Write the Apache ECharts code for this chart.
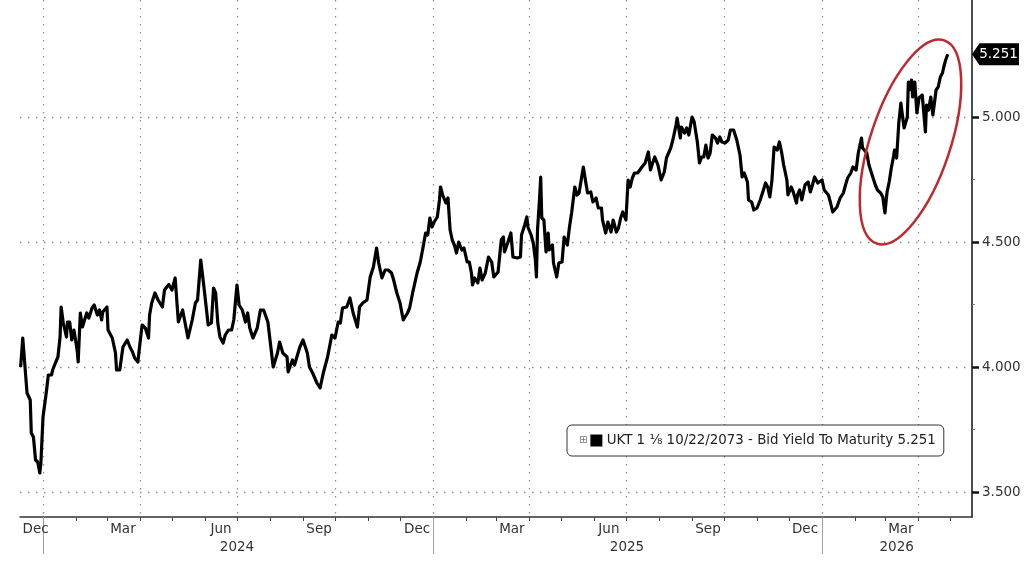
<!DOCTYPE html>
<html>
<head>
<meta charset="utf-8">
<script src="https://cdn.jsdelivr.net/npm/echarts@6/dist/echarts.min.js"></script>
<style>
html,body{margin:0;padding:0;background:#fff;}
#chart{width:1034px;height:564px;}
</style>
</head>
<body>
<div id="chart"></div>
<script>
// ---------------- DATA ----------------
const dates = [
'2023-12-11','2023-12-13','2023-12-14','2023-12-17','2023-12-20','2023-12-21','2023-12-23','2023-12-25','2023-12-27','2023-12-29','2023-12-30',
'2024-01-01','2024-01-04','2024-01-06','2024-01-09','2024-01-10','2024-01-13','2024-01-15','2024-01-17','2024-01-18','2024-01-20','2024-01-23','2024-01-24','2024-01-26','2024-01-28','2024-01-30',
'2024-02-02','2024-02-03','2024-02-05','2024-02-07','2024-02-09','2024-02-11','2024-02-13','2024-02-16','2024-02-18','2024-02-21','2024-02-23','2024-02-25','2024-02-26',
'2024-03-01','2024-03-02','2024-03-06','2024-03-09','2024-03-10','2024-03-13','2024-03-16','2024-03-20','2024-03-23','2024-03-25','2024-03-27','2024-03-30',
'2024-04-01','2024-04-03','2024-04-06','2024-04-09','2024-04-10','2024-04-12','2024-04-15','2024-04-18','2024-04-22','2024-04-24','2024-04-28',
'2024-05-01','2024-05-04','2024-05-07','2024-05-11','2024-05-16','2024-05-20','2024-05-23','2024-05-25','2024-05-28','2024-05-31',
'2024-06-04','2024-06-07','2024-06-09','2024-06-11','2024-06-13','2024-06-15','2024-06-18','2024-06-20','2024-06-23','2024-06-26','2024-06-28',
'2024-07-01','2024-07-03','2024-07-06','2024-07-09','2024-07-11','2024-07-13','2024-07-16','2024-07-20','2024-07-23','2024-07-26','2024-07-30',
'2024-08-01','2024-08-04','2024-08-08','2024-08-10','2024-08-13','2024-08-17','2024-08-18','2024-08-22','2024-08-24','2024-08-29',
'2024-09-01','2024-09-05','2024-09-07','2024-09-10','2024-09-14','2024-09-17','2024-09-20','2024-09-24','2024-09-28',
'2024-10-01','2024-10-04','2024-10-06','2024-10-08','2024-10-12','2024-10-15','2024-10-18','2024-10-22','2024-10-24','2024-10-27','2024-10-31',
'2024-11-03','2024-11-06','2024-11-09','2024-11-11','2024-11-14','2024-11-17','2024-11-20','2024-11-23','2024-11-25','2024-11-28',
'2024-12-01','2024-12-04','2024-12-08','2024-12-10','2024-12-13','2024-12-17','2024-12-20','2024-12-23','2024-12-25','2024-12-27','2024-12-29','2024-12-31',
'2025-01-02','2025-01-05','2025-01-07','2025-01-08','2025-01-10','2025-01-13','2025-01-15','2025-01-17','2025-01-19','2025-01-21','2025-01-23','2025-01-25','2025-01-28','2025-01-30',
'2025-02-02','2025-02-04','2025-02-06','2025-02-07','2025-02-09','2025-02-12','2025-02-14','2025-02-16','2025-02-19','2025-02-22','2025-02-25','2025-02-27',
'2025-03-03','2025-03-06','2025-03-08','2025-03-09','2025-03-12','2025-03-15','2025-03-17','2025-03-21','2025-03-24','2025-03-25','2025-03-28','2025-03-30','2025-03-31',
'2025-04-03','2025-04-05','2025-04-07','2025-04-08','2025-04-09','2025-04-11','2025-04-12','2025-04-13','2025-04-15','2025-04-17','2025-04-19','2025-04-20','2025-04-23','2025-04-24','2025-04-27','2025-04-29',
'2025-05-02','2025-05-04','2025-05-07','2025-05-09','2025-05-11','2025-05-14','2025-05-16','2025-05-18','2025-05-20','2025-05-22','2025-05-25','2025-05-26','2025-05-29','2025-05-31',
'2025-06-03','2025-06-05','2025-06-08','2025-06-09','2025-06-12','2025-06-14','2025-06-17','2025-06-19','2025-06-22','2025-06-24','2025-06-26','2025-06-28',
'2025-07-01','2025-07-03','2025-07-05','2025-07-07','2025-07-09','2025-07-12','2025-07-16','2025-07-19','2025-07-22','2025-07-24','2025-07-26','2025-07-28','2025-07-31',
'2025-08-03','2025-08-06','2025-08-08','2025-08-10','2025-08-12','2025-08-14','2025-08-17','2025-08-18','2025-08-21','2025-08-22','2025-08-25','2025-08-27','2025-08-29',
'2025-09-01','2025-09-03','2025-09-06','2025-09-08','2025-09-10','2025-09-12','2025-09-14','2025-09-16','2025-09-18','2025-09-20','2025-09-23','2025-09-25','2025-09-27','2025-09-29',
'2025-10-02','2025-10-05','2025-10-07','2025-10-10','2025-10-13','2025-10-16','2025-10-18','2025-10-20','2025-10-23','2025-10-24','2025-10-27','2025-10-29',
'2025-11-01','2025-11-04','2025-11-07','2025-11-09','2025-11-11','2025-11-13','2025-11-15','2025-11-17','2025-11-20','2025-11-22','2025-11-24','2025-11-26','2025-11-29','2025-11-30',
'2025-12-03','2025-12-05','2025-12-08','2025-12-09','2025-12-11','2025-12-13','2025-12-16','2025-12-19','2025-12-21','2025-12-23','2025-12-25','2025-12-28',
'2026-01-01','2026-01-03','2026-01-07','2026-01-09','2026-01-11','2026-01-15','2026-01-18','2026-01-21','2026-01-23','2026-01-25','2026-01-28','2026-01-30',
'2026-02-02','2026-02-04','2026-02-07','2026-02-08','2026-02-12','2026-02-14','2026-02-17','2026-02-20','2026-02-22','2026-02-25','2026-02-27',
'2026-03-01','2026-03-03','2026-03-05','2026-03-07','2026-03-09','2026-03-10','2026-03-12','2026-03-14','2026-03-16','2026-03-17','2026-03-19','2026-03-22','2026-03-23','2026-03-24','2026-03-26','2026-03-27','2026-03-29','2026-03-31',
'2026-04-02','2026-04-05','2026-04-06','2026-04-08','2026-04-09','2026-04-11','2026-04-13','2026-04-15','2026-04-18','2026-04-20','2026-04-22','2026-04-24','2026-04-25','2026-04-27','2026-04-29'
];
const yields = [
4.000,4.116,4.110,3.896,3.868,3.736,3.720,3.628,3.620,3.576,3.616,
3.800,3.896,3.968,3.968,3.988,4.020,4.040,4.120,4.240,4.176,4.120,4.180,4.180,4.108,4.148,
4.068,4.020,4.216,4.160,4.188,4.216,4.196,4.236,4.248,4.208,4.228,4.188,4.220,
4.240,4.148,4.116,4.056,3.988,3.988,4.080,4.108,4.076,4.060,4.036,4.020,
4.096,4.168,4.156,4.116,4.208,4.256,4.296,4.268,4.240,4.308,4.330,
4.308,4.356,4.180,4.228,4.116,4.188,4.256,4.268,4.428,4.320,
4.168,4.176,4.316,4.296,4.176,4.120,4.096,4.128,4.148,4.148,4.188,
4.328,4.248,4.228,4.180,4.216,4.156,4.116,4.156,4.228,4.228,4.180,
4.108,4.000,4.056,4.100,4.056,4.040,3.980,4.028,4.008,4.080,
4.108,4.056,4.000,3.976,3.936,3.916,3.976,4.040,4.128,
4.116,4.180,4.176,4.236,4.240,4.276,4.216,4.160,4.240,4.256,4.268,
4.360,4.400,4.476,4.416,4.356,4.388,4.388,4.376,4.348,4.296,
4.256,4.188,4.216,4.236,4.300,4.376,4.420,4.488,4.536,4.528,4.596,4.560,
4.580,4.600,4.668,4.720,4.688,4.656,4.676,4.548,4.508,4.488,4.456,4.500,4.468,4.476,
4.420,4.420,4.376,4.328,4.356,4.336,4.396,4.348,4.376,4.440,4.420,4.360,
4.380,4.508,4.520,4.460,4.496,4.536,4.440,4.436,4.440,4.528,4.568,4.600,4.560,
4.528,4.496,4.428,4.360,4.548,4.680,4.760,4.596,4.588,4.460,4.536,4.468,4.488,4.416,4.360,4.416,
4.420,4.520,4.488,4.560,4.616,4.720,4.688,4.696,4.748,4.800,4.720,4.696,4.700,4.660,
4.676,4.636,4.636,4.588,4.536,4.580,4.540,4.588,4.540,4.556,4.596,4.620,
4.588,4.748,4.720,4.756,4.776,4.776,4.800,4.816,4.860,4.788,4.816,4.840,4.808,
4.748,4.780,4.836,4.856,4.876,4.908,4.968,4.996,4.916,4.960,4.936,4.956,4.928,
5.000,4.980,4.900,4.816,4.840,4.840,4.888,4.836,4.856,4.928,4.916,4.896,4.920,4.900,
4.896,4.908,4.948,4.948,4.908,4.848,4.760,4.776,4.740,4.668,4.660,4.628,
4.636,4.668,4.708,4.736,4.720,4.680,4.748,4.880,4.868,4.900,4.860,4.808,4.748,4.688,
4.720,4.700,4.656,4.688,4.708,4.668,4.728,4.740,4.700,4.728,4.760,4.736,
4.748,4.708,4.688,4.656,4.620,4.640,4.676,4.696,4.728,4.756,4.776,4.800,
4.788,4.856,4.916,4.876,4.856,4.808,4.768,4.728,4.708,4.696,4.680,
4.616,4.700,4.740,4.796,4.840,4.868,4.836,4.976,5.056,5.020,4.956,5.000,5.140,5.108,5.148,5.080,5.140,5.016,
5.076,5.088,5.040,4.940,5.048,5.028,5.080,5.008,5.108,5.120,5.160,5.176,5.196,5.228,5.251
];

const seriesName = 'UKT 1 ⅛ 10/22/2073 - Bid Yield To Maturity';

const xRange = ['2023-12-10T09:36:00Z', '2026-05-21T17:00:00Z'];
const yRange = [3.4, 5.468];

const monthLabelDates = ['2023-12-25','2024-03-16','2024-06-16','2024-09-16','2024-12-17','2025-03-16','2025-06-15','2025-09-16','2025-12-16','2026-03-16'];
const monthLabels     = ['Dec','Mar','Jun','Sep','Dec','Mar','Jun','Sep','Dec','Mar'];

const yearLabelDates = ['2024-07-01','2025-07-02','2026-03-12'];
const yearLabels     = ['2024','2025','2026'];
const yearStarts     = ['2024-01-01','2025-01-01','2026-01-01'];

const quarterStarts = ['2024-01-01','2024-04-01','2024-07-01','2024-10-01','2025-01-01','2025-04-01','2025-07-01','2025-10-01','2026-01-01','2026-04-01'];
const monthStarts = [
'2024-01-01','2024-02-01','2024-03-01','2024-04-01','2024-05-01','2024-06-01','2024-07-01','2024-08-01','2024-09-01','2024-10-01','2024-11-01','2024-12-01',
'2025-01-01','2025-02-01','2025-03-01','2025-04-01','2025-05-01','2025-06-01','2025-07-01','2025-08-01','2025-09-01','2025-10-01','2025-11-01','2025-12-01',
'2026-01-01','2026-02-01','2026-03-01','2026-04-01','2026-05-01'
];

const yTicks      = [3.5, 4.0, 4.5, 5.0];
const yMinorTicks = [3.75, 4.25, 4.75];

// annotation ellipse centre (data coords)
const ellipseCenter = ['2026-03-25', 4.90];

// ---------------- CHART ----------------
// dates -> UTC timestamps (x is a numeric value axis of time stamps)
const T = s => Date.parse(s.length === 10 ? s + 'T00:00:00Z' : s);
const FONT = 'DejaVu Sans';
const xMin = T(xRange[0]), xMax = T(xRange[1]);
const lastVal = yields[yields.length - 1];

const monthLabelT = monthLabelDates.map(T);
const yearLabelT = yearLabelDates.map(T);
function lookup(arrT, labels) {
  return function (v) {
    const n = +v;
    for (let i = 0; i < arrT.length; i++) if (Math.abs(arrT[i] - n) < 3600000) return labels[i];
    return '';
  };
}

const dotted = { color: '#8f8f8f', width: 1.3, type: [1.5, 6.5] };

const chart = echarts.init(document.getElementById('chart'), null, { renderer: 'canvas' });

const baseX = extra => Object.assign({
  type: 'value', min: xMin, max: xMax, position: 'bottom', gridIndex: 0, scale: true,
  axisLine: { show: false }, axisTick: { show: false }, axisLabel: { show: false },
  splitLine: { show: false }, axisPointer: { show: false }
}, extra);

const option = {
  animation: false,
  backgroundColor: '#ffffff',
  textStyle: { fontFamily: FONT },
  grid: { left: 20, right: 62, top: 0, bottom: 47, containLabel: false },
  xAxis: [
    baseX({
      axisLine: { show: true, onZero: false, lineStyle: { color: '#333', width: 1.5 } },
      axisTick: { show: true, customValues: monthStarts.map(T), length: 4, lineStyle: { color: '#444', width: 1 } },
      axisLabel: { show: true, customValues: monthLabelT, formatter: lookup(monthLabelT, monthLabels),
        margin: 5, fontSize: 13.5, color: '#333', fontFamily: FONT }
    }),
    baseX({
      axisTick: { show: false, customValues: quarterStarts.map(T) },
      splitLine: { show: true, lineStyle: dotted }
    }),
    baseX({
      axisTick: { show: true, customValues: yearStarts.map(T), length: 37, lineStyle: { color: '#a0a0a0', width: 1 } },
      axisLabel: { show: true, customValues: yearLabelT, formatter: lookup(yearLabelT, yearLabels),
        margin: 23, fontSize: 13.5, color: '#333', fontFamily: FONT }
    })
  ],
  yAxis: [
    {
      type: 'value', position: 'right', min: yRange[0], max: yRange[1],
      axisLine: { show: true, onZero: false, lineStyle: { color: '#111', width: 1.5 } },
      axisTick: { show: true, customValues: yTicks, length: 7, lineStyle: { color: '#111', width: 2.5 } },
      axisLabel: { show: true, customValues: yTicks, formatter: v => (+v).toFixed(3), margin: 10,
        fontSize: 13.5, color: '#333', fontFamily: FONT },
      splitLine: { show: true, lineStyle: dotted }
    },
    {
      type: 'value', position: 'right', min: yRange[0], max: yRange[1],
      axisLine: { show: false },
      axisTick: { show: true, customValues: yMinorTicks, length: 3, lineStyle: { color: '#777', width: 1 } },
      axisLabel: { show: false },
      splitLine: { show: false }
    }
  ],
  legend: {
    show: true,
    data: [seriesName],
    left: 567, top: 425,
    padding: [9, 8, 9, 7],
    borderColor: '#333', borderWidth: 1, borderRadius: 5,
    backgroundColor: '#fff',
    itemWidth: 0, itemHeight: 0, icon: 'rect',
    selectedMode: false,
    formatter: name => '{ic|⊞}{sq| }{t| ' + name + ' ' + lastVal.toFixed(3) + '}',
    textStyle: {
      fontFamily: FONT, fontSize: 13.4, color: '#222',
      rich: {
        ic: { fontSize: 10, color: '#777', padding: [0, 3, 0, 0], fontFamily: FONT },
        sq: { width: 12, height: 12, backgroundColor: '#000' },
        t: { fontSize: 13.4, color: '#222', fontFamily: FONT, lineHeight: 18 }
      }
    }
  },
  series: [{
    name: seriesName,
    type: 'line',
    xAxisIndex: 0, yAxisIndex: 0,
    data: dates.map((d, i) => [T(d), yields[i]]),
    showSymbol: false,
    symbol: 'none',
    lineStyle: { color: '#000', width: 3.2, join: 'round' },
    itemStyle: { color: '#000' },
    z: 5,
    markPoint: {
      silent: true,
      animation: false,
      symbol: 'path://M0,10L8,0H50V20H8Z',
      symbolSize: [47, 22],
      symbolKeepAspect: false,
      symbolOffset: [23.5, 0],
      itemStyle: { color: '#000' },
      label: { show: true, position: 'inside', offset: [3, 0], color: '#fff', fontSize: 13.5, fontFamily: FONT,
        formatter: () => lastVal.toFixed(3) },
      data: [{ coord: [xMax, lastVal] }]
    }
  }]
};

chart.setOption(option);

const c = chart.convertToPixel({ xAxisIndex: 0, yAxisIndex: 0 }, [T(ellipseCenter[0]), ellipseCenter[1]]);
chart.setOption({
  graphic: [{
    type: 'ellipse',
    x: c[0], y: c[1],
    rotation: -0.32,
    shape: { cx: 0, cy: 0, rx: 40, ry: 107 },
    style: { fill: 'none', stroke: '#c0282d', lineWidth: 2.5 },
    z: 100, silent: true
  }]
});
</script>
</body>
</html>
